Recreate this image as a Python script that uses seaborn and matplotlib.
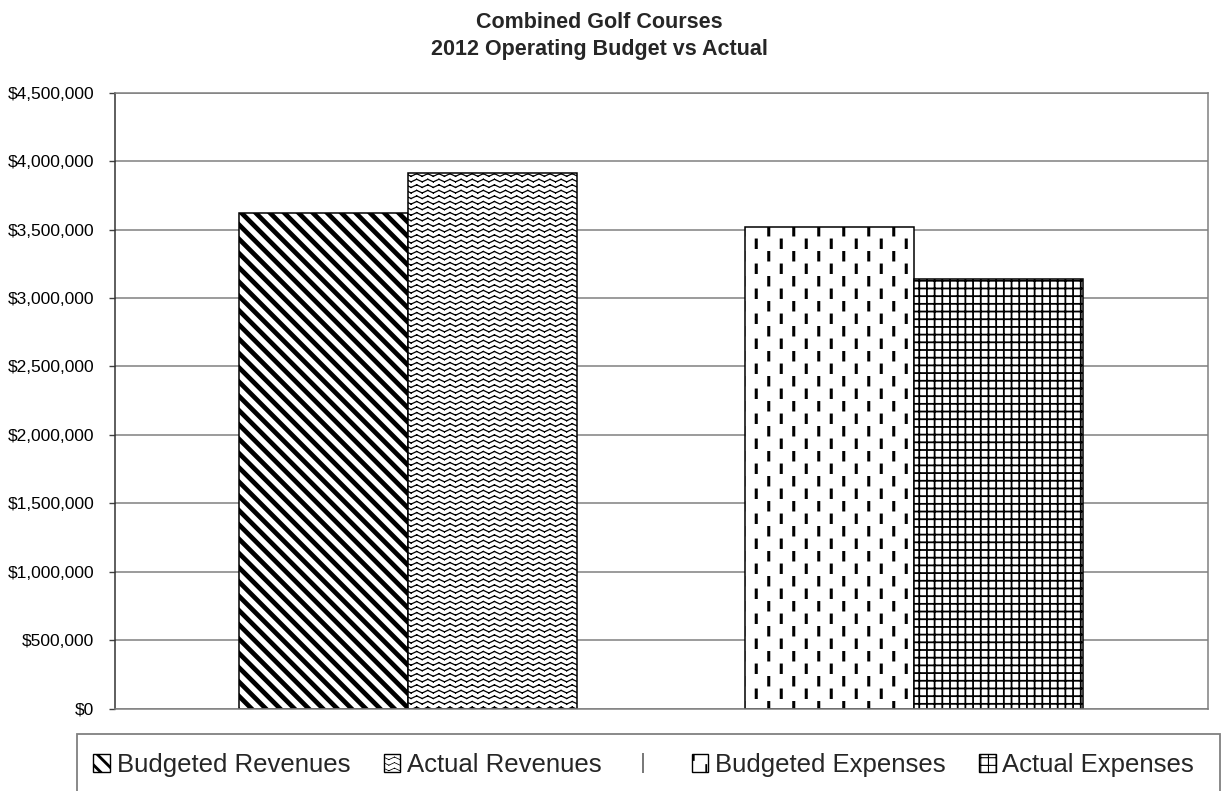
import warnings
import numpy as np
import pandas as pd
import matplotlib
matplotlib.use("Agg")
import matplotlib.pyplot as plt
import matplotlib.patches as mpatches
from matplotlib.lines import Line2D
from matplotlib.path import Path
from matplotlib import hatch as mhatch
from matplotlib.ticker import StrMethodFormatter, MultipleLocator
import seaborn as sns

warnings.filterwarnings("ignore")

# ---- data -------------------------------------------------------------
series = ["Budgeted Revenues", "Actual Revenues", " ", "Budgeted Expenses", "Actual Expenses"]
values = [3619000, 3911000, 0, 3516000, 3137000]
title_lines = ["Combined Golf Courses", "2012 Operating Budget vs Actual"]
y_max = 4500000
y_step = 500000

# fill patterns per series (custom hatch codes registered below)
hatches = ["b", "z", "", "d", "g"]
hatch_widths = [3.4, 0.9, 0.5, 2.2, 1.3]


# ---- custom hatch patterns -------------------------------------------
class BackStripes(mhatch.HatchPatternBase):
    """Thick '\\' stripes, 7 per inch."""
    def __init__(self, hatch, density):
        self.m = 7 if "b" in hatch else 0
        self.num_vertices = (2 * self.m + 1) * 2 if self.m else 0

    def set_vertices_and_codes(self, vertices, codes):
        c = np.arange(2 * self.m + 1) / self.m
        vertices[0::2, 0] = c - 1.0
        vertices[0::2, 1] = 1.0
        vertices[1::2, 0] = c
        vertices[1::2, 1] = 0.0
        codes[0::2] = Path.MOVETO
        codes[1::2] = Path.LINETO


class ZigZag(mhatch.HatchPatternBase):
    """Rows of small zigzag waves."""
    def __init__(self, hatch, density):
        self.rows = 18 if "z" in hatch else 0
        self.teeth = 9
        self.num_vertices = self.rows * self.teeth * 4

    def set_vertices_and_codes(self, vertices, codes):
        amp = 0.026
        k = 0
        for i in range(self.rows):
            y = (i + 0.5) / self.rows - amp / 2
            for j in range(self.teeth):
                x0 = j / self.teeth
                xm = (j + 0.5) / self.teeth
                x1 = (j + 1) / self.teeth
                vertices[k:k + 4] = [(x0, y), (xm, y + amp), (xm, y + amp), (x1, y)]
                codes[k:k + 4] = [Path.MOVETO, Path.LINETO, Path.MOVETO, Path.LINETO]
                k += 4


class StaggeredDashes(mhatch.HatchPatternBase):
    """Short vertical dashes in staggered rows."""
    def __init__(self, hatch, density):
        self.rows = 8 if "d" in hatch else 0
        self.cols = 4
        self.num_vertices = self.rows * self.cols * 2

    def set_vertices_and_codes(self, vertices, codes):
        half = 0.037
        k = 0
        for i in range(self.rows):
            yc = (i + 0.5) / self.rows
            for j in range(self.cols):
                x = (j + 0.25 + 0.5 * (i % 2)) / self.cols
                vertices[k] = (x, yc - half)
                vertices[k + 1] = (x, yc + half)
                codes[k] = Path.MOVETO
                codes[k + 1] = Path.LINETO
                k += 2


class FineGrid(mhatch.HatchPatternBase):
    """Square grid, 13 lines per inch each way."""
    def __init__(self, hatch, density):
        self.n = 13 if "g" in hatch else 0
        self.num_vertices = self.n * 4

    def set_vertices_and_codes(self, vertices, codes):
        p = (np.arange(self.n) + 0.5) / self.n
        n = self.n
        vertices[0:2 * n:2, 0] = 0.0
        vertices[1:2 * n:2, 0] = 1.0
        vertices[0:2 * n:2, 1] = p
        vertices[1:2 * n:2, 1] = p
        vertices[2 * n::2, 1] = 0.0
        vertices[2 * n + 1::2, 1] = 1.0
        vertices[2 * n::2, 0] = p
        vertices[2 * n + 1::2, 0] = p
        codes[0::2] = Path.MOVETO
        codes[1::2] = Path.LINETO


mhatch._hatch_types.extend([BackStripes, ZigZag, StaggeredDashes, FineGrid])


def style_hatch(patch, h, lw):
    patch.set_hatch(h)
    if hasattr(patch, "set_hatch_linewidth"):
        patch.set_hatch_linewidth(lw)


# ---- figure -------------------------------------------------------------
sns.set_theme(style="white")
plt.rcParams["font.family"] = ["Liberation Sans", "DejaVu Sans"]
plt.rcParams["hatch.color"] = "black"

df = pd.DataFrame({"series": series, "value": values})

fig = plt.figure(figsize=(12.25, 7.91), dpi=100)
ax = fig.add_axes([0.0939, 0.104, 0.8922, 0.7788])

sns.barplot(data=df, x="series", y="value", order=series, color="white",
            saturation=1, edgecolor="black", linewidth=1.1, width=1.0,
            errorbar=None, ax=ax)

for bar, h, lw, v in zip(ax.containers[0], hatches, hatch_widths, values):
    bar.set_facecolor("white")
    style_hatch(bar, h, lw)
    if v == 0:
        bar.set_linewidth(0)

ax.set_xlim(-1.235, 5.24)
ax.set_ylim(0, y_max)
ax.yaxis.set_major_locator(MultipleLocator(y_step))
ax.yaxis.set_major_formatter(StrMethodFormatter("${x:,.0f}"))
ax.set_xticks([])
ax.set_xlabel("")
ax.set_ylabel("")
ax.set_axisbelow(True)
ax.yaxis.grid(True, color="#808080", linewidth=1.1)
ax.tick_params(axis="y", direction="out", length=4.3, width=1.0,
               color="#404040", pad=10.5, labelsize=12.5, labelcolor="black",
               left=True)
for side in ["top", "right", "bottom"]:
    ax.spines[side].set_color("#808080")
    ax.spines[side].set_linewidth(1.1)
ax.spines["left"].set_color("#333333")
ax.spines["left"].set_linewidth(1.1)

# two-line bold title
fig.text(0.489, 1 - 28 / 791, title_lines[0], ha="center", va="baseline",
         fontsize=15.5, fontweight="bold")
fig.text(0.489, 1 - 55 / 791, title_lines[1], ha="center", va="baseline",
         fontsize=15.5, fontweight="bold")

# legend along the bottom, inside an open-bottomed box
handles, labels = [], []
for name, h, lw in zip(series, hatches, hatch_widths):
    if name.strip() == "":
        handles.append(Line2D([], [], marker="|", color="#606060",
                              linestyle="None", markersize=14, markeredgewidth=1.2))
        labels.append("")
    else:
        p = mpatches.Patch(facecolor="white", edgecolor="black", linewidth=1.0)
        style_hatch(p, h, lw * 0.7)
        handles.append(p)
        labels.append(name)

leg = fig.legend(handles, labels, loc="center",
                 bbox_to_anchor=(0.5255, 1 - 765 / 791), ncol=5, frameon=False,
                 fontsize=18.5, handlelength=0.64, handleheight=0.65,
                 handletextpad=0.27, columnspacing=1.3, borderpad=0.3,
                 borderaxespad=0)
for lp, h, lw in zip([hh for hh in leg.legend_handles if isinstance(hh, mpatches.Rectangle)],
                     [x for x in hatches if x], [w for x, w in zip(hatches, hatch_widths) if x]):
    style_hatch(lp, h, lw * 0.6)

box = mpatches.Rectangle((77 / 1225, -0.05), (1220 - 77) / 1225, 0.05 + (791 - 734) / 791,
                         transform=fig.transFigure, fill=False,
                         edgecolor="#808080", linewidth=1.3)
fig.add_artist(box)

fig.savefig("out.png", dpi=100)
